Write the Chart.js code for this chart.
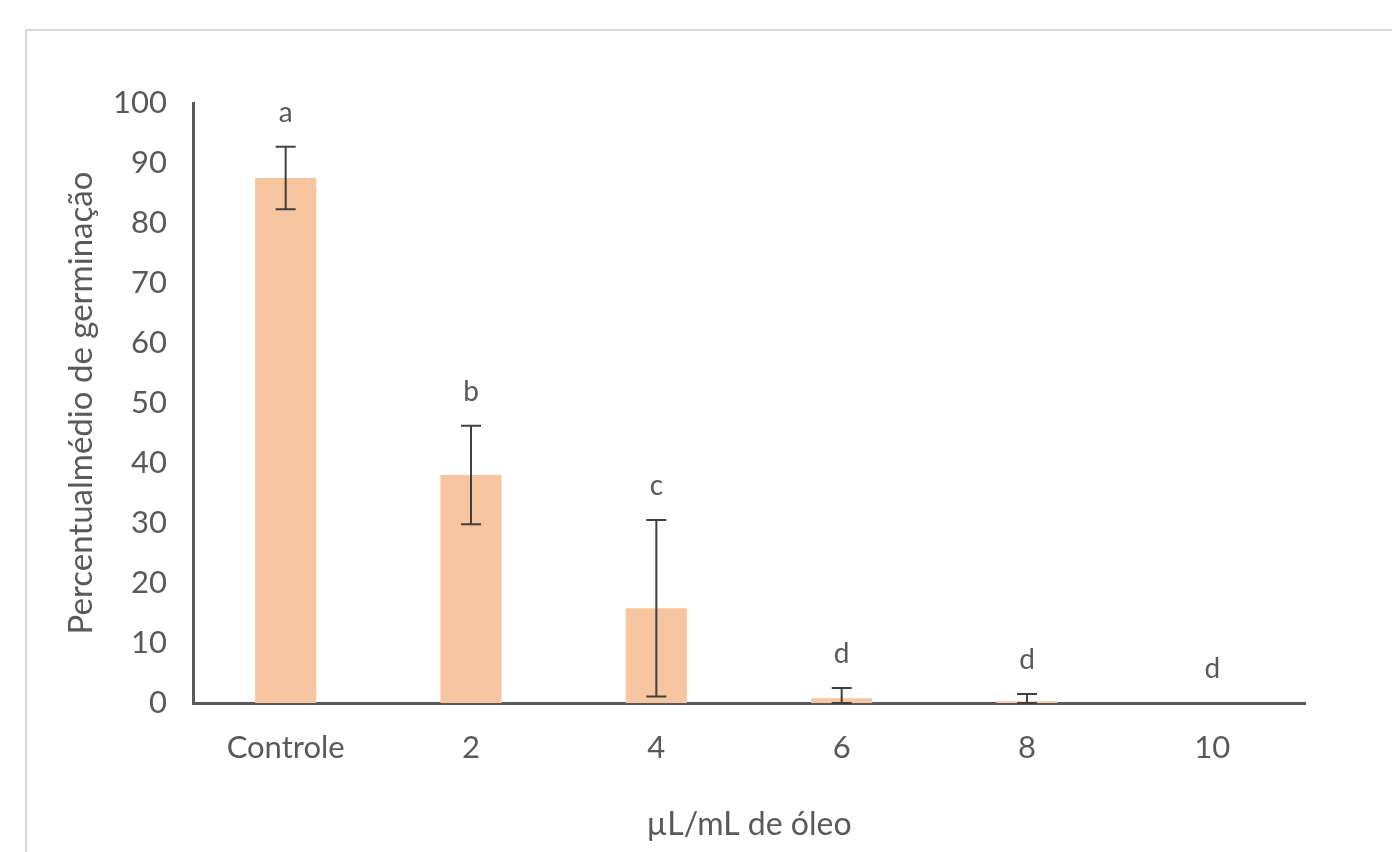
<!DOCTYPE html>
<html>
<head>
<meta charset="utf-8">
<script src="https://cdn.jsdelivr.net/npm/chart.js@4.4.1/dist/chart.umd.min.js"></script>
<style>
  html, body { margin: 0; padding: 0; background: #fff; overflow: hidden; }
  #moldura { position: absolute; left: 25px; top: 29px; width: 1400px; height: 900px; border: 2px solid #d9d9d9; }
  #wrap { position: absolute; left: 0; top: 0; width: 1392px; height: 852px; }
</style>
</head>
<body>
<div id="moldura"></div>
<div id="wrap"><canvas id="graficoGerminacao"></canvas></div>
<script>
/* dados */
const categorias = ['Controle', '2', '4', '6', '8', '10'];
const medias = [87.5, 38, 15.8, 0.8, 0.3, 0];
const desvios = [5.2, 8.2, 14.7, 1.7, 1.2, 0];
const letras = ['a', 'b', 'c', 'd', 'd', 'd'];

const corTexto = '#595959';
const fonte = 'Lato';

// barras de erro + letras de significância
const pluginErro = {
  id: 'barrasErro',
  afterDatasetsDraw(chart) {
    const { ctx, scales } = chart;
    const meta = chart.getDatasetMeta(0);
    ctx.save();
    meta.data.forEach((barra, i) => {
      const x = barra.x;
      const sup = medias[i] + desvios[i];
      const inf = Math.max(0, medias[i] - desvios[i]);
      const ySup = scales.y.getPixelForValue(sup);
      const yInf = scales.y.getPixelForValue(inf);
      if (desvios[i] > 0) {
        ctx.strokeStyle = '#404040';
        ctx.lineWidth = 2;
        ctx.beginPath();
        ctx.moveTo(x, ySup); ctx.lineTo(x, yInf);
        ctx.moveTo(x - 10, ySup); ctx.lineTo(x + 10, ySup);
        ctx.moveTo(x - 10, yInf); ctx.lineTo(x + 10, yInf);
        ctx.stroke();
      }
      ctx.fillStyle = corTexto;
      ctx.font = '28px ' + fonte;
      ctx.textAlign = 'center';
      ctx.textBaseline = 'middle';
      ctx.fillText(letras[i], x, ySup - 34);
    });
    ctx.restore();
  }
};

new Chart(document.getElementById('graficoGerminacao'), {
  type: 'bar',
  data: {
    labels: categorias,
    datasets: [{
      data: medias,
      backgroundColor: '#f7c6a0',
      borderWidth: 0,
      barPercentage: 0.33,
      categoryPercentage: 1
    }]
  },
  options: {
    responsive: true,
    maintainAspectRatio: false,
    animation: false,
    layout: { padding: { left: 58, right: 87, top: 103, bottom: 4 } },
    plugins: {
      legend: { display: false },
      tooltip: { enabled: false }
    },
    scales: {
      x: {
        grid: { display: false, drawTicks: false },
        border: { display: true, color: '#595959', width: 3 },
        ticks: { color: corTexto, font: { family: fonte, size: 31 }, padding: 26 },
        title: { display: true, text: 'µL/mL de óleo', color: corTexto, font: { family: fonte, size: 32 } },
        afterFit(s) { s.height = 852 - 4 - 703; }
      },
      y: {
        min: 0, max: 100,
        grid: { display: false, drawTicks: false },
        border: { display: true, color: '#595959', width: 3 },
        ticks: { stepSize: 10, color: corTexto, font: { family: fonte, size: 31 }, padding: 26 },
        title: { display: true, text: 'Percentualmédio de germinação', color: corTexto, font: { family: fonte, size: 33 } },
        afterFit(s) { s.width = 193 - 58; }
      }
    }
  },
  plugins: [pluginErro]
});
</script>
</body>
</html>
